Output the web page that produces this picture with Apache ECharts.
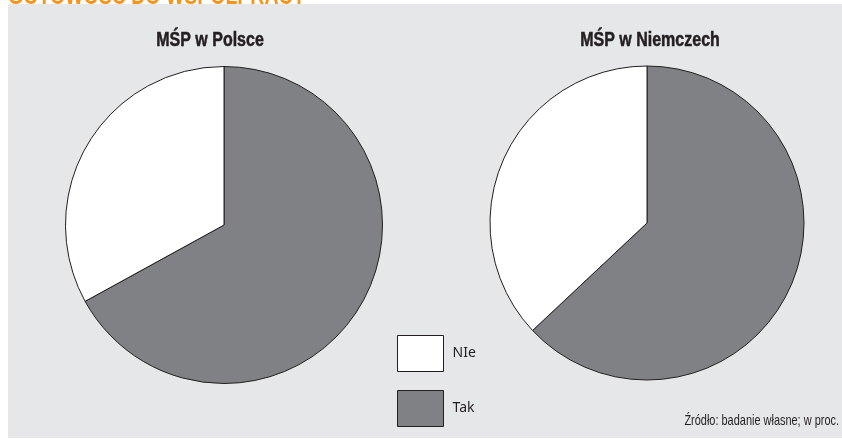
<!DOCTYPE html>
<html>
<head>
<meta charset="utf-8">
<script src="https://cdn.jsdelivr.net/npm/echarts@6/dist/echarts.min.js"></script>
<style>
html,body{margin:0;padding:0;background:#ffffff;}
#c{width:842px;height:439px;}
</style>
</head>
<body>
<div id="c"></div>
<script>
var categories = ['Tak', 'NIe'];
var legendOrder = ['NIe', 'Tak'];
var polandValues = [67, 33];
var germanyValues = [63, 37];
var chartTitle = 'GOTOWOŚĆ DO WSPÓŁPRACY';
var pieTitles = ['MŚP w Polsce', 'MŚP w Niemczech'];
var sourceText = 'Źródło: badanie własne; w proc.';
var sliceColors = { 'Tak': '#808184', 'NIe': '#ffffff' };

var sans = "'Liberation Sans', Arial, sans-serif";

function makeData(vals) {
  return categories.map(function (name, i) {
    return { name: name, value: vals[i], itemStyle: { color: sliceColors[name] } };
  });
}

var chart = echarts.init(document.getElementById('c'));
chart.setOption({
  animation: false,
  backgroundColor: '#ffffff',
  graphic: [
    { type: 'text', z: -20, x: 8, y: 10, scaleX: 0.78, style: { text: chartTitle, fill: '#f7941d', font: "bold 25px " + sans, verticalAlign: 'bottom', align: 'left' } },
    { type: 'rect', z: -10, silent: true, shape: { x: 8, y: 4, width: 834, height: 434 }, style: { fill: '#e6e7e8' } },
    { type: 'text', x: 210, y: 40, scaleX: 0.8, style: { text: pieTitles[0], fill: '#231f20', stroke: '#231f20', lineWidth: 0.5, font: "bold 20px " + sans, align: 'center', verticalAlign: 'middle' } },
    { type: 'text', x: 650, y: 40, scaleX: 0.8, style: { text: pieTitles[1], fill: '#231f20', stroke: '#231f20', lineWidth: 0.5, font: "bold 20px " + sans, align: 'center', verticalAlign: 'middle' } },
    { type: 'text', x: 839, y: 421, scaleX: 0.73, style: { text: sourceText, fill: '#231f20', font: "15px " + sans, align: 'right', verticalAlign: 'middle' } }
  ],
  legend: {
    data: legendOrder,
    orient: 'vertical',
    left: 397,
    top: 335,
    itemWidth: 46,
    itemHeight: 36,
    itemGap: 18,
    icon: 'rect',
    padding: 0,
    selectedMode: false,
    itemStyle: { borderColor: '#231f20', borderWidth: 1 },
    textStyle: { fontFamily: "'Noto Sans', 'Open Sans', sans-serif", fontSize: 14, color: '#231f20', padding: [0, 0, 0, 4] }
  },
  series: [
    {
      type: 'pie', center: [224, 225], radius: 158.5, startAngle: 90, clockwise: true,
      label: { show: false }, labelLine: { show: false }, silent: true,
      itemStyle: { borderColor: '#231f20', borderWidth: 1 },
      emphasis: { disabled: true },
      data: makeData(polandValues)
    },
    {
      type: 'pie', center: [647, 223], radius: 157, startAngle: 90, clockwise: true,
      label: { show: false }, labelLine: { show: false }, silent: true,
      itemStyle: { borderColor: '#231f20', borderWidth: 1 },
      emphasis: { disabled: true },
      data: makeData(germanyValues)
    }
  ]
});
</script>
</body>
</html>
